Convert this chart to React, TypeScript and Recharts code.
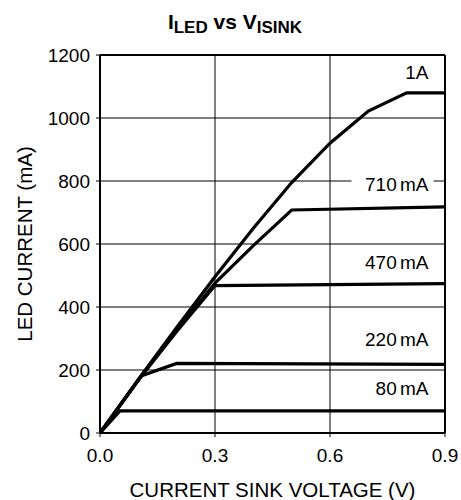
import React from 'react';
import {
  LineChart,
  Line,
  XAxis,
  YAxis,
  CartesianGrid,
  ReferenceLine,
  ReferenceDot,
} from 'recharts';

// curves: voltage (V) and LED current (mA)
const oneAV = [0, 0.1, 0.2, 0.3, 0.4, 0.5, 0.6, 0.7, 0.8, 0.9];
const oneAI = [0, 170, 335, 496, 650, 795, 920, 1022, 1080, 1080];
const s710V = [0, 0.1, 0.2, 0.3, 0.4, 0.5, 0.9];
const s710I = [0, 168, 325, 476, 595, 708, 718];
const s470V = [0, 0.1, 0.2, 0.3, 0.9];
const s470I = [0, 168, 322, 468, 474];
const s220V = [0, 0.109, 0.2, 0.9];
const s220I = [0, 182, 221, 218];
const s80V = [0, 0.052, 0.9];
const s80I = [0, 70, 70];

const xTicks = [0, 0.3, 0.6, 0.9];
const yTicks = [0, 200, 400, 600, 800, 1000, 1200];

const labelText = ['1A', '710 mA', '470 mA', '220 mA', '80 mA'];
const labelV = [0.857, 0.857, 0.857, 0.857, 0.857];
const labelI = [1146, 790, 541, 298, 140];

const toData = (v: number[], i: number[]) => v.map((x, k) => ({ v: x, i: i[k] }));

const series = [
  toData(oneAV, oneAI),
  toData(s710V, s710I),
  toData(s470V, s470I),
  toData(s220V, s220I),
  toData(s80V, s80I),
];

const FONT = '"Liberation Sans", Arial, Helvetica, sans-serif';

const SeriesLabel = (text: string, boxed: boolean) => (p: any) => (
  <g>
    {boxed && <rect x={p.cx - 77} y={p.cy - 10} width={82} height={20} fill="#fff" />}
    <text
      x={p.cx}
      y={p.cy}
      textAnchor="end"
      dominantBaseline="central"
      fontFamily={FONT}
      fontSize={19}
      wordSpacing={-2}
      fill="#000"
    >
      {text}
    </text>
  </g>
);

const XLabel = (props: any) => {
  const { x, y, width, height } = props.viewBox;
  return (
    <text x={x + width / 2} y={y + height - 3} textAnchor="middle" fontFamily={FONT} fontSize={20.5} fill="#000">
      CURRENT SINK VOLTAGE (V)
    </text>
  );
};

const YLabel = (props: any) => {
  const { x, y, height } = props.viewBox;
  const cx = x + 24;
  const cy = y + height / 2;
  return (
    <text
      x={cx}
      y={cy}
      transform={`rotate(-90, ${cx}, ${cy})`}
      textAnchor="middle"
      dominantBaseline="central"
      fontFamily={FONT}
      fontSize={20.5}
      fill="#000"
    >
      LED CURRENT (mA)
    </text>
  );
};

export default function App() {
  return (
    <div style={{ position: 'absolute', left: 0, top: 0, width: 461, height: 500, background: '#fff' }}>
      <svg width={461} height={50} style={{ position: 'absolute', left: 0, top: 0 }}>
        <text x={235} y={29} textAnchor="middle" fontFamily={FONT} fontWeight="bold" fontSize={21} fill="#000">
          I<tspan fontSize={17} dy={4}>LED</tspan>
          <tspan dy={-4}> vs V</tspan>
          <tspan fontSize={17} dy={4}>ISINK</tspan>
        </text>
      </svg>
      <LineChart
        width={461}
        height={500}
        margin={{ top: 55, right: 16, bottom: 0, left: 0 }}
        style={{ position: 'absolute', left: 0, top: 0 }}
      >
        <CartesianGrid stroke="#000" strokeWidth={1} horizontalValues={yTicks} verticalValues={xTicks} />
        <XAxis
          dataKey="v"
          type="number"
          domain={[0, 0.9]}
          ticks={xTicks}
          tickFormatter={(t: number) => t.toFixed(1)}
          allowDataOverflow
          height={67}
          tickSize={4}
          tickMargin={12}
          stroke="#000"
          axisLine={{ stroke: '#000', strokeWidth: 2 }}
          tick={{ fill: '#000', fontSize: 19, fontFamily: FONT }}
          label={<XLabel />}
        />
        <YAxis
          dataKey="i"
          type="number"
          domain={[0, 1200]}
          ticks={yTicks}
          allowDataOverflow
          width={100}
          tickSize={4}
          tickMargin={6}
          stroke="#000"
          axisLine={{ stroke: '#000', strokeWidth: 2 }}
          tick={{ fill: '#000', fontSize: 19, fontFamily: FONT }}
          label={<YLabel />}
        />
        <ReferenceLine y={1200} stroke="#000" strokeWidth={2} />
        <ReferenceLine x={0.9} stroke="#000" strokeWidth={2} />
        {series.map((d, k) => (
          <Line
            key={k}
            data={d}
            dataKey="i"
            type="linear"
            stroke="#000"
            strokeWidth={3.2}
            dot={false}
            isAnimationActive={false}
          />
        ))}
        {labelText.map((t, k) => (
          <ReferenceDot
            key={t}
            x={labelV[k]}
            y={labelI[k]}
            r={1}
            shape={SeriesLabel(t, t === '710 mA')}
          />
        ))}
      </LineChart>
    </div>
  );
}
